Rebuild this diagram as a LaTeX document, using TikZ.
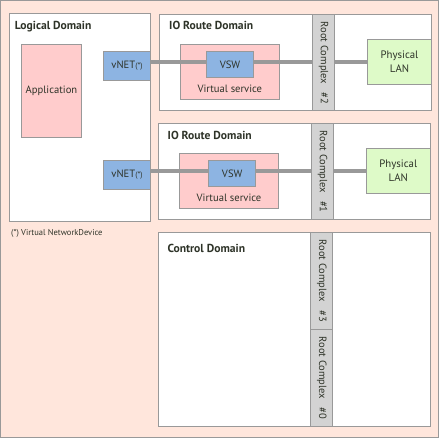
\documentclass[tikz,border=0pt]{standalone}
\usepackage{fontspec}
\setmainfont{PT Sans}
\usetikzlibrary{calc}
\pgfdeclarelayer{bg}
\pgfdeclarelayer{mid}
\pgfsetlayers{bg,mid,main}
\definecolor{peach}{HTML}{FFE6DC}
\definecolor{bordergray}{HTML}{999999}
\definecolor{pinkbox}{HTML}{FFCCCC}
\definecolor{bluebox}{HTML}{8DB4E2}
\definecolor{greenbox}{HTML}{DEFAC8}
\definecolor{rcgray}{HTML}{D3D3D3}
\definecolor{txt}{HTML}{2E3328}
\begin{document}
\begin{tikzpicture}[x=1pt,y=-1pt,
  every node/.style={text=txt,font=\fontsize{10.6}{12}\selectfont},
  box/.style={draw=bordergray,line width=1pt,anchor=north west,inner sep=0pt,outer sep=0pt},
  dombox/.style={box,fill=white},
  pinkb/.style={box,fill=pinkbox},
  blueb/.style={box,fill=bluebox},
  greenb/.style={box,fill=greenbox,align=center},
  rcbox/.style={box,fill=rcgray},
  ttl/.style={anchor=base west,inner sep=0pt,font=\bfseries\fontsize{11.6}{13}\selectfont},
  rctext/.style={rotate=-90,inner sep=0pt,font=\fontsize{10.5}{12}\selectfont},
  link/.style={draw=bordergray,line width=4pt}
]
\useasboundingbox (0,0) rectangle (440,438);
\begin{pgfonlayer}{bg}
\draw[draw=bordergray,line width=1pt,fill=peach] (0.5,0.5) rectangle (438.5,437.5);
\node[dombox,minimum width=141.4pt,minimum height=208.4pt] (logical) at (9.3,13.3) {};
\node[dombox,minimum width=272.4pt,minimum height=96.3pt] (io1) at (159.3,14.7) {};
\node[dombox,minimum width=272.4pt,minimum height=96.7pt] (io2) at (158.3,123.3) {};
\node[dombox,minimum width=272.4pt,minimum height=194pt] (ctrl) at (158.3,232.3) {};
\node[pinkb,minimum width=99pt,minimum height=55pt] (vs1) at (180.3,44.3) {};
\node[pinkb,minimum width=99.4pt,minimum height=54.6pt] (vs2) at (179.3,153.7) {};
\end{pgfonlayer}
% titles
\node[ttl] (tlog) at (14.7,29.8) {Logical Domain};
\node[ttl] (tio1) at (169,30) {IO Route Domain};
\node[ttl] (tio2) at (167.5,139.3) {IO Route Domain};
\node[ttl] (tctrl) at (167.3,252.7) {Control Domain};
% application
\node[pinkb,minimum width=60.4pt,minimum height=93pt] (app) at (21.3,44.3) {};
\node (tapp) at (app.center) {Application};
% vnets
\node[blueb,minimum width=47.4pt,minimum height=28.6pt] (vnet1) at (103.3,51.7) {};
\node (tvnet1) at (vnet1.center) {vNET{\fontsize{8}{9}\selectfont(*)}};
\node[blueb,minimum width=47.4pt,minimum height=29pt] (vnet2) at (103.3,160.3) {};
\node (tvnet2) at (vnet2.center) {vNET{\fontsize{8}{9}\selectfont(*)}};
% vsw
\node[blueb,minimum width=47.4pt,minimum height=26pt] (vsw1) at (206.3,51.3) {};
\node (tvsw1) at (vsw1.center) {VSW};
\node[blueb,minimum width=47pt,minimum height=26pt] (vsw2) at (208.7,160.3) {};
\node (tvsw2) at (vsw2.center) {VSW};
\node (tvs1) at ($(vs1.south)+(0,-10.5)$) {Virtual service};
\node (tvs2) at ($(vs2.south)+(0,-10.5)$) {Virtual service};
% physical LAN
\node[greenb,minimum width=64.4pt,minimum height=45pt] (lan1) at (367.3,39.3) {};
\node[align=center,font=\fontsize{10.8}{14}\selectfont] (tlan1) at (lan1.center) {Physical\\LAN};
\node[greenb,minimum width=63.3pt,minimum height=44.6pt] (lan2) at (366.7,148.7) {};
\node[align=center,font=\fontsize{10.8}{14}\selectfont] (tlan2) at (lan2.center) {Physical\\LAN};
% root complexes
\node[rcbox,minimum width=21.6pt,minimum height=96.3pt] (rc2) at (312.7,14.7) {};
\node[rctext] (trc2) at (rc2.center) {\hbox to 82pt{Root Complex\hfill\#2}};
\node[rcbox,minimum width=21.6pt,minimum height=96.7pt] (rc1) at (311.7,123.3) {};
\node[rctext] (trc1) at (rc1.center) {\hbox to 82pt{Root Complex\hfill\#1}};
\node[rcbox,minimum width=22pt,minimum height=97pt] (rc3) at (310.7,232.3) {};
\node[rctext] (trc3) at (rc3.center) {\hbox to 82pt{Root Complex\hfill\#3}};
\node[rcbox,minimum width=22pt,minimum height=97pt] (rc0) at (310.7,329.3) {};
\node[rctext] (trc0) at (rc0.center) {\hbox to 82pt{Root Complex\hfill\#0}};
% links
\begin{pgfonlayer}{mid}
\draw[link] (vnet1.east |- lan1.west) -- (lan1.west);
\draw[link] (vnet2.east |- lan2.west) -- (lan2.west);
\end{pgfonlayer}
% footnote
\node[anchor=west,inner sep=0pt,font=\fontsize{8.5}{10}\selectfont] (fn) at (11,233.5) {(*) Virtual NetworkDevice};
\end{tikzpicture}
\end{document}
